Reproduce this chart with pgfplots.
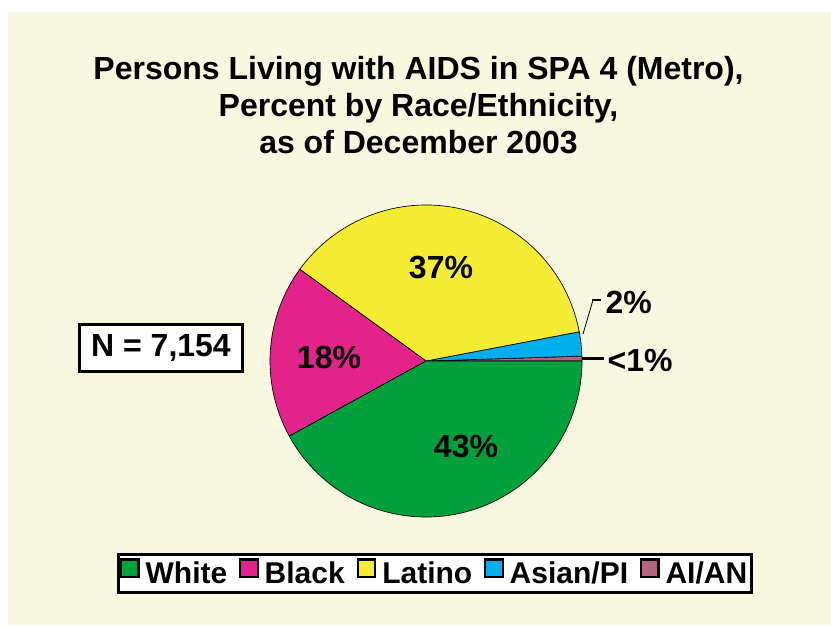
\documentclass[border=0pt]{standalone}
\usepackage{pgfplots}
\pgfplotsset{compat=1.18}
\usepackage{pgfplotstable}
\usepackage{fontspec}
\setmainfont{Liberation Sans}

\definecolor{bgcream}{RGB}{248,247,224}
\definecolor{cWhite}{RGB}{0,161,60}
\definecolor{cBlack}{RGB}{226,36,138}
\definecolor{cLatino}{RGB}{245,237,50}
\definecolor{cAsian}{RGB}{0,174,239}
\definecolor{cAian}{RGB}{179,100,127}

\newcommand\lbl{\bfseries\fontsize{24}{28}\selectfont}

% slices counter-clockwise from 3 o'clock
\pgfplotstableread[col sep=comma]{
group,pct,color
AI/AN,0.5,cAian
Asian/PI,2.5,cAsian
Latino,37,cLatino
Black,18,cBlack
White,42,cWhite
}\piedata

\begin{document}
\begin{tikzpicture}
\begin{axis}[
  x=0.75pt, y=0.75pt,
  xmin=0, xmax=831, ymin=0, ymax=625,
  y dir=reverse,
  hide axis, clip=false,
  legend columns=-1,
  legend style={at={(0.5235,0.0824)}, anchor=center, draw=black,
    line width=2.25pt, fill=white, inner xsep=1pt, inner ysep=3pt,
    font=\bfseries\fontsize{22.5}{27}\selectfont,
    /tikz/every odd column/.append style={column sep=2.5pt},
    /tikz/every even column/.append style={column sep=7pt}},
  legend image code/.code={\draw[#1,draw=black,line width=1.6pt] (0pt,-2pt) rectangle (13pt,11pt);},
]
\fill[white] (axis cs:0,0) rectangle (axis cs:831,625);
\fill[bgcream] (axis cs:8,12) rectangle (axis cs:831,625);

\addlegendimage{fill=cWhite}\addlegendentry{White}
\addlegendimage{fill=cBlack}\addlegendentry{Black}
\addlegendimage{fill=cLatino}\addlegendentry{Latino}
\addlegendimage{fill=cAsian}\addlegendentry{Asian/PI}
\addlegendimage{fill=cAian}\addlegendentry{AI/AN}

\def\pieR{117pt}
\def\angA{0}
\pgfplotstablegetrowsof{\piedata}
\pgfmathtruncatemacro\nrows{\pgfplotsretval-1}
\pgfplotsforeachungrouped \i in {0,...,\nrows}{%
  \pgfplotstablegetelem{\i}{pct}\of\piedata\let\slicepct\pgfplotsretval
  \pgfplotstablegetelem{\i}{color}\of\piedata\let\slicecolor\pgfplotsretval
  \pgfmathsetmacro\angB{\angA+3.6*\slicepct}%
  \edef\slice{\noexpand\filldraw[fill=\slicecolor,draw=black,line width=0.5pt]
    (axis cs:426,361) -- ++(\angA:\pieR) arc[start angle=\angA,end angle=\angB,radius=\pieR] -- cycle;}%
  \slice
  \let\angA\angB
}

\node[font=\lbl] at (axis cs:441,268) {37\%};
\node[font=\lbl] at (axis cs:329,357) {18\%};
\node[font=\lbl] at (axis cs:466,446) {43\%};

\draw[line width=0.6pt] (axis cs:583,334) -- (axis cs:593,300);
\draw[line width=2pt] (axis cs:592,300) -- (axis cs:601,300);
\node[font=\lbl, anchor=west, inner sep=1pt] at (axis cs:604,302) {2\%};
\draw[line width=2.25pt] (axis cs:582,358.5) -- (axis cs:604,358.5);
\node[font=\lbl, anchor=west, inner sep=1pt] at (axis cs:606,360) {<1\%};

\node[font=\bfseries\fontsize{24}{27.75}\selectfont, align=center]
  at (axis cs:418.5,105) {Persons Living with AIDS in SPA 4 (Metro),\\Percent by Race/Ethnicity,\\as of December 2003};

\node[font=\lbl, draw=black, line width=2.25pt, fill=white,
  minimum width=122pt, minimum height=35pt, inner sep=0pt]
  at (axis cs:161,348) {N = 7,154};
\end{axis}
\end{tikzpicture}
\end{document}
